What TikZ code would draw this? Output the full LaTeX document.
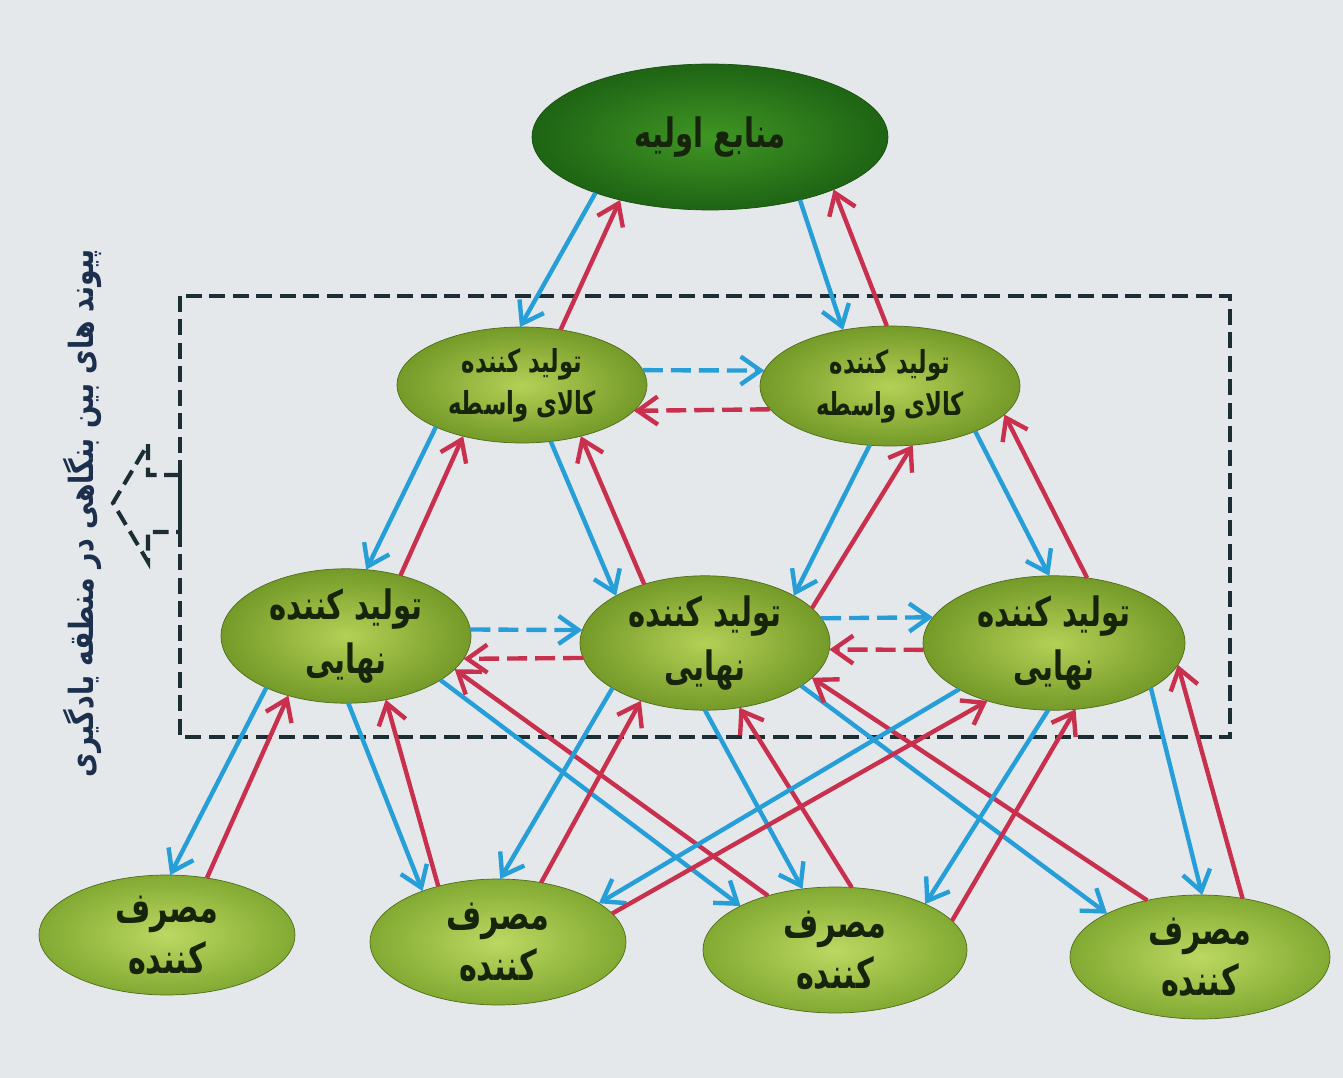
\documentclass[tikz,border=0pt]{standalone}
\usepackage{fontspec}
\newfontfamily\arabicfont[Script=Arabic,FakeStretch=0.72]{DejaVu Sans}
\newfontfamily\sidefont[Script=Arabic,FakeStretch=0.8]{DejaVu Sans}
\TeXXeTstate=1
\usetikzlibrary{arrows.meta,shapes.geometric}
\definecolor{bg}{RGB}{229,232,235}
\definecolor{bluearr}{RGB}{38,158,215}
\definecolor{redarr}{RGB}{200,48,78}
\definecolor{boxcol}{RGB}{28,46,52}
\definecolor{txtcol}{RGB}{22,36,12}
\definecolor{labelcol}{RGB}{28,48,78}
\definecolor{topin}{RGB}{64,150,36}
\definecolor{topout}{RGB}{30,100,20}
\definecolor{gin}{RGB}{180,208,86}
\definecolor{gout}{RGB}{116,154,40}
\definecolor{cin}{RGB}{188,216,98}
\definecolor{cout}{RGB}{130,170,50}
\newcommand{\rtltext}[1]{\beginR #1\endR}
\tikzset{
  base/.style={ellipse, inner sep=0pt, outer sep=0pt, text=txtcol, align=center,
     draw=gout!70!black, line width=0.4pt},
  topnode/.style={base, inner color=topin, outer color=topout, draw=topout!80!black,
     minimum width=7.12cm, minimum height=2.92cm, font=\arabicfont\bfseries\fontsize{23}{30}\selectfont},
  midnode/.style={base, inner color=gin, outer color=gout,
     font=\arabicfont\bfseries\fontsize{18}{24}\selectfont},
  finnode/.style={base, inner color=gin, outer color=gout,
     font=\arabicfont\bfseries\fontsize{23}{31}\selectfont},
  connode/.style={base, inner color=cin, outer color=cout,
     font=\arabicfont\bfseries\fontsize{24}{29}\selectfont},
  tipb/.style={-{Straight Barb[length=4mm,width=5.6mm]}},
  blu/.style={draw=bluearr, line width=2.5pt, tipb},
  rd/.style={draw=redarr, line width=2.5pt, tipb},
  bludash/.style={blu, dash pattern=on 4mm off 1.6mm},
  rddash/.style={rd, dash pattern=on 4mm off 1.6mm},
  boxline/.style={draw=boxcol, line width=2.3pt, dash pattern=on 3.2mm off 1.5mm},
}
\begin{document}
\begin{tikzpicture}[x=0.02cm, y=-0.02cm]
\useasboundingbox (0,0) rectangle (1343,1078);
\fill[bg] (0,0) rectangle (1343,1078);

% learning-region box and its arrow
\path[boxline] (180,296) rectangle (1230,737);
\path[boxline] (180,475) -- (148,475) -- (148,444) -- (113,503) -- (148,562) -- (148,532) -- (180,532);
\draw[boxcol, line width=2.3pt] (180,475) -- (180,532);
\node[rotate=90, text=labelcol, font=\sidefont\bfseries\fontsize{19}{22}\selectfont] (lbl) at (82,513)
  {\rtltext{پیوند های بین بنگاهی در منطقه یادگیری}};

% nodes
\node[topnode] (T) at (710,137) {\rtltext{منابع اولیه}};
\node[midnode, minimum width=5cm, minimum height=2.32cm] (I1) at (522,385)
  {\rtltext{تولید کننده}\\\rtltext{کالای واسطه}};
\node[midnode, minimum width=5.2cm, minimum height=2.4cm] (I2) at (890,386)
  {\rtltext{تولید کننده}\\\rtltext{کالای واسطه}};
\node[finnode, minimum width=5cm, minimum height=2.32cm] (F1) at (346,636)
  {\rtltext{تولید کننده}\\\rtltext{نهایی}};
\node[finnode, minimum width=5cm, minimum height=2.52cm] (F2) at (705,643)
  {\rtltext{تولید کننده}\\\rtltext{نهایی}};
\node[finnode, minimum width=5.24cm, minimum height=2.4cm] (F3) at (1054,643)
  {\rtltext{تولید کننده}\\\rtltext{نهایی}};
\node[connode, minimum width=5.12cm, minimum height=2.4cm] (C1) at (167,935)
  {\rtltext{مصرف}\\\rtltext{کننده}};
\node[connode, minimum width=5.12cm, minimum height=2.52cm] (C2) at (498,942)
  {\rtltext{مصرف}\\\rtltext{کننده}};
\node[connode, minimum width=5.28cm, minimum height=2.52cm] (C3) at (835,950)
  {\rtltext{مصرف}\\\rtltext{کننده}};
\node[connode, minimum width=5.2cm, minimum height=2.48cm] (C4) at (1200,957)
  {\rtltext{مصرف}\\\rtltext{کننده}};

% top <-> intermediate
\draw[blu] (T.206) -- (I1.92);
\draw[rd]  (I1.55) -- (T.215);
\draw[blu] (T.325) -- (I2.130);
\draw[rd]  (I2.93) -- (T.337);
\draw[bludash] (I1.7) -- (I2.173);
\draw[rddash]  (I2.191) -- (I1.347);

% intermediate <-> final
\draw[blu] (I1.206) -- (F1.73);
\draw[rd]  (F1.48) -- (I1.221);
\draw[blu] (I1.297) -- (F2.152);
\draw[rd]  (F2.136) -- (I1.319);
\draw[blu] (I2.251) -- (F2.28);
\draw[rd]  (F2.18) -- (I2.291);
\draw[blu] (I2.332) -- (F3.94);
\draw[rd]  (F3.63) -- (I2.346);
\draw[bludash] (F1.3) -- (F2.174);
\draw[rddash]  (F2.187) -- (F1.349);
\draw[bludash] (F2.12) -- (F3.168);
\draw[rddash]  (F3.183) -- (F2.357);

% final <-> consumers
\draw[blu] (F1.213) -- (C1.87);
\draw[rd]  (C1.55) -- (F1.226);
\draw[blu] (F1.272) -- (C2.146);
\draw[rd]  (C2.137) -- (F1.302);
\draw[blu] (F1.335) -- (C3.155);
\draw[rd]  (C3.141) -- (F1.343);
\draw[blu] (F2.206) -- (C2.88);
\draw[rd]  (C2.54) -- (F2.222);
\draw[blu] (F2.270) -- (C3.118);
\draw[rd]  (C3.75) -- (F2.298);
\draw[blu] (F2.336) -- (C4.155);
\draw[rd]  (C4.133) -- (F2.342);
\draw[blu] (F3.206) -- (C2.21);
\draw[rd]  (C2.14) -- (F3.221);
\draw[blu] (F3.265) -- (C3.27);
\draw[rd]  (C3.14) -- (F3.288);
\draw[blu] (F3.335) -- (C4.88);
\draw[rd]  (C4.54) -- (F3.350);
\end{tikzpicture}
\end{document}
